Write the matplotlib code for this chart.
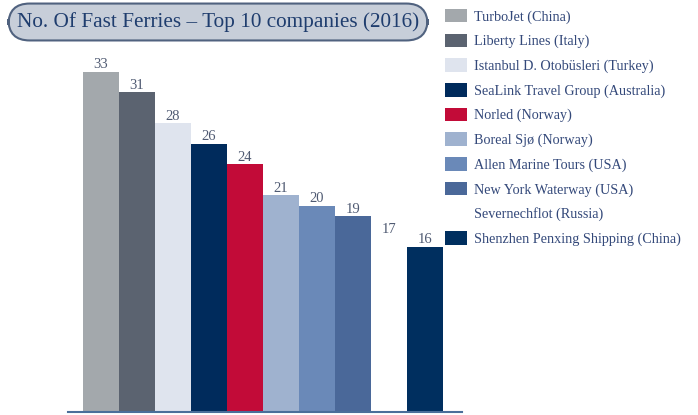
import matplotlib
matplotlib.use('Agg')
import matplotlib.pyplot as plt
from matplotlib.patches import Patch

plt.rcParams['font.family'] = ['Liberation Serif', 'DejaVu Serif']

# データ
companies = ['TurboJet (China)', 'Liberty Lines (Italy)', 'Istanbul D. Otobüsleri (Turkey)',
             'SeaLink Travel Group (Australia)', 'Norled (Norway)', 'Boreal Sjø (Norway)',
             'Allen Marine Tours (USA)', 'New York Waterway (USA)', 'Severnechflot (Russia)',
             'Shenzhen Penxing Shipping (China)']
ferries = [33, 31, 28, 26, 24, 21, 20, 19, 17, 16]
colors = ['#a3a8ac', '#5b6370', '#dfe4ee', '#002b5c', '#c20b38',
          '#9fb2cf', '#6a89b8', '#4a6899', '#ffffff', '#002f5f']

W, H = 698, 415
fig = plt.figure(figsize=(W / 100, H / 100), dpi=100)
ax = fig.add_axes([68 / W, 3 / H, (462 - 68) / W, 362 / H])

x = list(range(len(ferries)))
ax.bar(x, ferries, width=1.0, color=colors, edgecolor='none')
for xi, v in zip(x, ferries):
    ax.text(xi, v + 0.05, str(v), ha='center', va='bottom', fontsize=10.5, color='#4f5a72')

ax.set_xlim(-0.92, 10.03)
ax.set_ylim(0, 35.1)
for s in ['top', 'right', 'left']:
    ax.spines[s].set_visible(False)
ax.spines['bottom'].set_color('#4a6f9a')
ax.spines['bottom'].set_linewidth(1.5)
ax.set_xticks([])
ax.set_yticks([])

# 凡例
handles = [Patch(facecolor=c, edgecolor='none') for c in colors]
leg = fig.legend(handles, companies, loc='upper left', bbox_to_anchor=(442 / W, 1 - 6 / H),
                 frameon=False, fontsize=10.2, handlelength=1.55, handleheight=1.1,
                 handletextpad=0.5, labelspacing=0.7, borderaxespad=0, borderpad=0.2)
for t in leg.get_texts():
    t.set_color('#34497a')

# タイトル
fig.text(218 / W, 1 - 22 / H, 'No. Of Fast Ferries \u2013 Top 10 companies (2016)',
         ha='center', va='center', fontsize=15.3, color='#1f3d6e',
         bbox=dict(boxstyle='round,pad=0.4,rounding_size=1.0', facecolor='#c7ced9',
                   edgecolor='#50627f', linewidth=1.5))

plt.savefig('out.png', dpi=100)
